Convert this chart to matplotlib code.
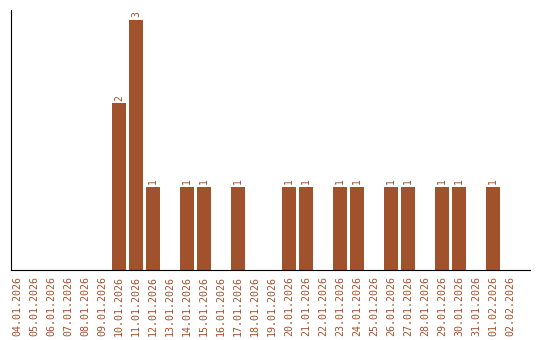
import matplotlib
matplotlib.use("Agg")
import matplotlib.pyplot as plt
import numpy as np

# dates shown on the x axis
dates = ["04.01.2026", "05.01.2026", "06.01.2026", "07.01.2026", "08.01.2026",
         "09.01.2026", "10.01.2026", "11.01.2026", "12.01.2026", "13.01.2026",
         "14.01.2026", "15.01.2026", "16.01.2026", "17.01.2026", "18.01.2026",
         "19.01.2026", "20.01.2026", "21.01.2026", "22.01.2026", "23.01.2026",
         "24.01.2026", "25.01.2026", "26.01.2026", "27.01.2026", "28.01.2026",
         "29.01.2026", "30.01.2026", "31.01.2026", "01.02.2026", "02.02.2026"]
counts = [0, 0, 0, 0, 0, 0, 2, 3, 1, 0,
          1, 1, 0, 1, 0, 0, 1, 1, 0, 1,
          1, 0, 1, 1, 0, 1, 1, 0, 1, 0]

color = "#A0522D"

fig = plt.figure(figsize=(5.4, 3.4), dpi=100)
ax = fig.add_axes([0.0204, 0.2059, 0.9611, 0.7647])

x = np.arange(len(dates))
bars = ax.bar(x, counts, width=0.82, color=color)

for xi, c in zip(x, counts):
    if c > 0:
        ax.text(xi, c + 0.03, str(c), rotation=90, ha="center", va="bottom",
                color=color, fontsize=7, family="DejaVu Sans Mono")

ax.set_xlim(-0.35, 30.18)
ax.set_ylim(0, 3.12)
ax.set_xticks(x)
ax.set_xticklabels(dates, rotation=90, color=color, fontsize=7.2,
                   family="DejaVu Sans Mono")
ax.tick_params(axis="x", length=0, pad=4.5)
ax.set_yticks([])
ax.spines["top"].set_visible(False)
ax.spines["right"].set_visible(False)

fig.savefig("out.png", dpi=100)
